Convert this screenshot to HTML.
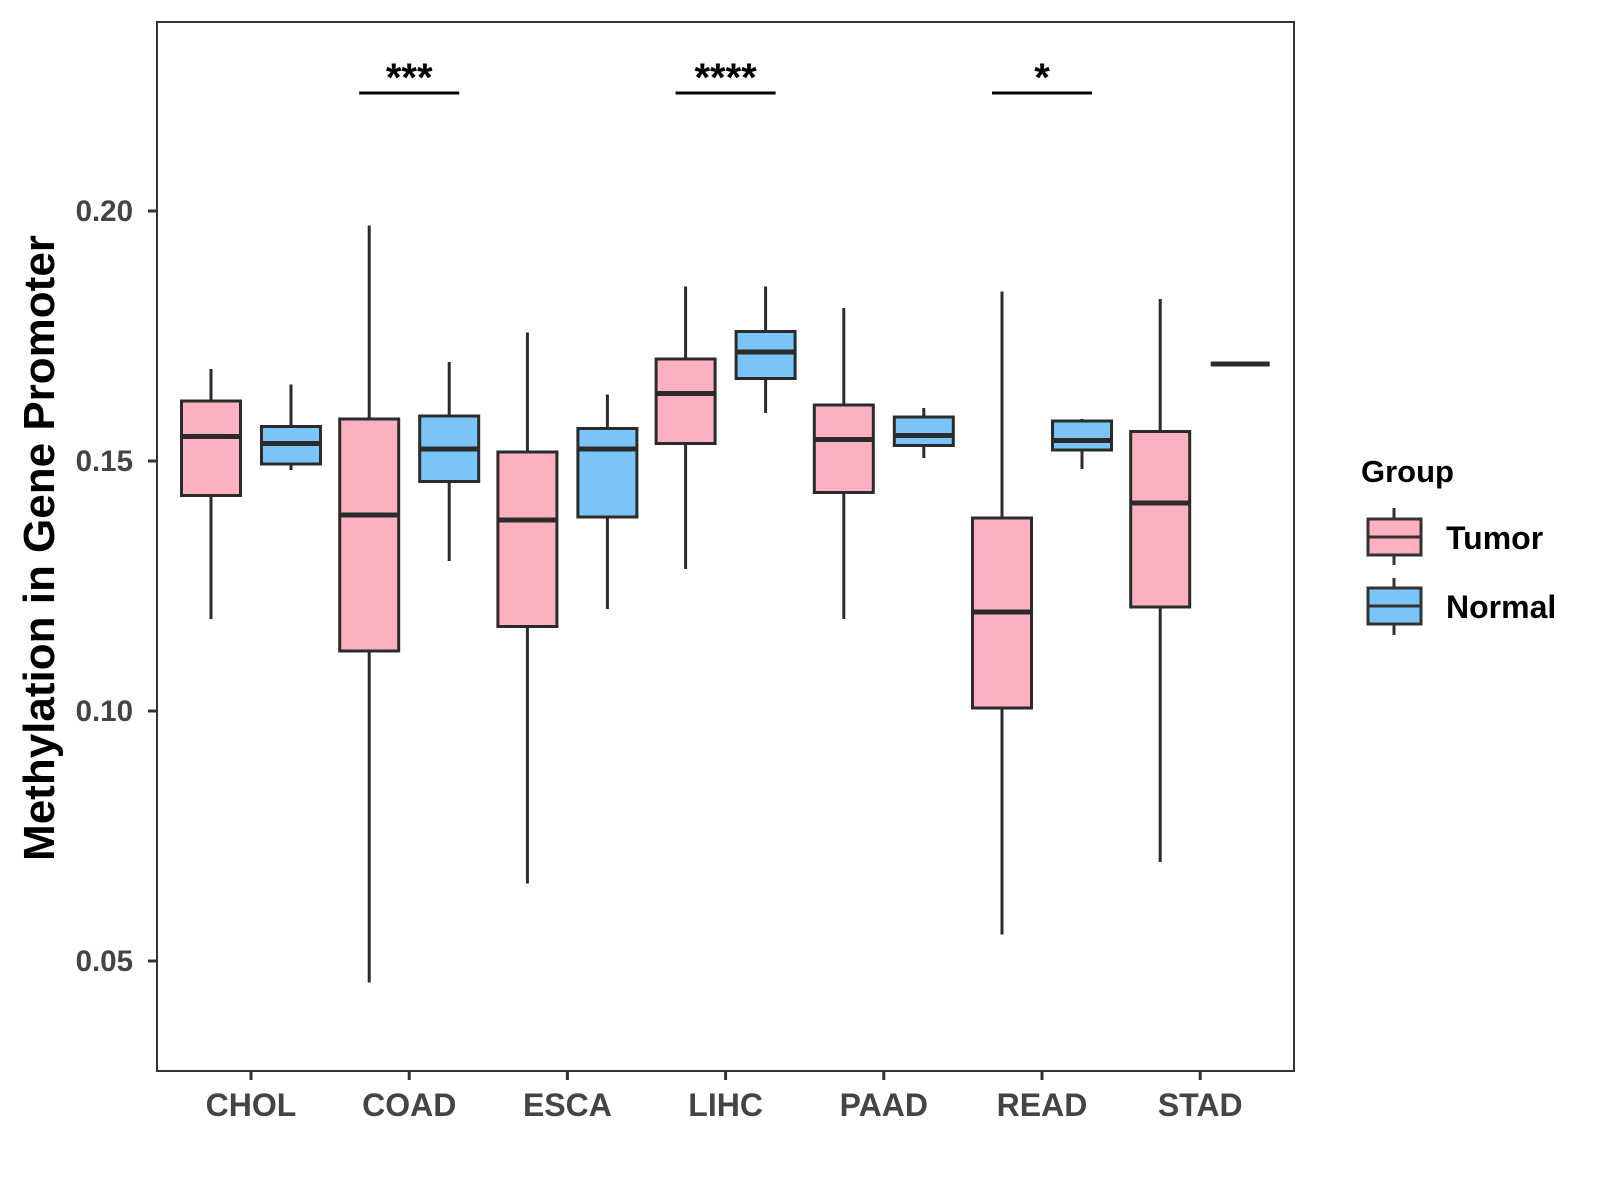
<!DOCTYPE html>
<html><head><meta charset="utf-8"><style>
html,body{margin:0;padding:0;background:#fff;}
svg{display:block;font-family:"Liberation Sans",Arial,sans-serif;}
</style></head><body>
<svg id="chart" width="1600" height="1200" viewBox="0 0 1600 1200">
<rect x="157" y="22" width="1137" height="1049" fill="#fff" stroke="#333" stroke-width="2"/>
<g id="marks"></g>
<text transform="translate(54,548) rotate(-90)" text-anchor="middle" font-size="44" font-weight="bold" fill="#000">Methylation in Gene Promoter</text>
<g>
<text x="1361" y="482" font-size="31" font-weight="bold">Group</text>
<g>
<line x1="1394" y1="508" x2="1394" y2="565" stroke="#333" stroke-width="3"/>
<rect x="1368" y="519" width="53" height="36" fill="#FDB0C0" stroke="#333" stroke-width="3"/>
<line x1="1368" y1="537" x2="1421" y2="537" stroke="#333" stroke-width="3"/>
<text x="1446" y="549" font-size="32" font-weight="bold">Tumor</text>
</g>
<g>
<line x1="1394" y1="578" x2="1394" y2="635" stroke="#333" stroke-width="3"/>
<rect x="1368" y="588" width="53" height="36" fill="#7BC4F8" stroke="#333" stroke-width="3"/>
<line x1="1368" y1="606" x2="1421" y2="606" stroke="#333" stroke-width="3"/>
<text x="1446" y="618" font-size="32" font-weight="bold">Normal</text>
</g>
</g>
</svg>
<script>
const categories = ["CHOL","COAD","ESCA","LIHC","PAAD","READ","STAD"];
const groups = ["Tumor","Normal"];
// [lower whisker, Q1, median, Q3, upper whisker]
const tumorStats = [
 [0.1184,0.1431,0.1549,0.1620,0.1684],
 [0.0457,0.1120,0.1392,0.1584,0.1971],
 [0.0655,0.1169,0.1382,0.1518,0.1757],
 [0.1284,0.1535,0.1635,0.1704,0.1849],
 [0.1184,0.1437,0.1543,0.1612,0.1806],
 [0.0553,0.1006,0.1198,0.1386,0.1839],
 [0.0698,0.1208,0.1416,0.1559,0.1824]
];
const normalStats = [
 [0.1482,0.1494,0.1535,0.1569,0.1653],
 [0.1300,0.1459,0.1524,0.1590,0.1698],
 [0.1204,0.1388,0.1524,0.1565,0.1633],
 [0.1596,0.1665,0.1718,0.1759,0.1849],
 [0.1506,0.1531,0.1551,0.1588,0.1606],
 [0.1484,0.1522,0.1541,0.1580,0.1584],
 [0.1694,0.1694,0.1694,0.1694,0.1694]
];
const yTicks = [0.05,0.10,0.15,0.20];
const yTickLabels = ["0.05","0.10","0.15","0.20"];
const sigCategories = ["COAD","LIHC","READ"];
const sigLabels = ["***","****","*"];
const sigValue = 0.2236;

const NS="http://www.w3.org/2000/svg";
const g=document.getElementById('marks');
const y=v=>211+(0.20-v)*5000;
const x=i=>251+i*158.2;
const colors={Tumor:"#FDB0C0",Normal:"#7BC4F8"};
function mk(tag,attrs,parent){const e=document.createElementNS(NS,tag);for(const k in attrs)e.setAttribute(k,attrs[k]);(parent||g).appendChild(e);return e;}

yTicks.forEach((t,i)=>{
 const grp=mk('g',{});
 
 
 mk('line',{x1:148,x2:157,y1:y(t),y2:y(t),stroke:'#333','stroke-width':3},grp);
 const tx=mk('text',{x:133,y:y(t)+10,'text-anchor':'end','font-size':29.5,'font-weight':'bold',fill:'#444'},grp);
 tx.textContent=yTickLabels[i];
});
categories.forEach((c,i)=>{
 const grp=mk('g',{});
 
 
 mk('line',{x1:x(i),x2:x(i),y1:1071,y2:1080,stroke:'#333','stroke-width':3},grp);
 const tx=mk('text',{x:x(i),y:1116,'text-anchor':'middle','font-size':32,'font-weight':'bold',fill:'#444'},grp);
 tx.textContent=c;
});
function box(cx,s,grpName,cat){
 const grp=mk('g',{});
 
 
 const w=59;
 mk('line',{x1:cx,x2:cx,y1:y(s[4]),y2:y(s[0]),stroke:'#2b2b2b','stroke-width':3},grp);
 mk('rect',{x:cx-w/2,y:y(s[3]),width:w,height:Math.max(0,y(s[1])-y(s[3])),fill:colors[grpName],stroke:'#2b2b2b','stroke-width':3},grp);
 mk('line',{x1:cx-w/2,x2:cx+w/2,y1:y(s[2]),y2:y(s[2]),stroke:'#2b2b2b','stroke-width':5},grp);
}
categories.forEach((c,i)=>{
 box(x(i)-40,tumorStats[i],'Tumor',c);
 box(x(i)+40,normalStats[i],'Normal',c);
});
sigCategories.forEach((c,k)=>{
 const i=categories.indexOf(c);
 const grp=mk('g',{});
 
 
 mk('line',{x1:x(i)-50,x2:x(i)+50,y1:y(sigValue),y2:y(sigValue),stroke:'#000','stroke-width':3},grp);
 const tx=mk('text',{x:x(i),y:y(sigValue)-2,'text-anchor':'middle','font-size':40,'font-weight':'bold',fill:'#000'},grp);
 tx.textContent=sigLabels[k];
});
</script>
</body></html>
